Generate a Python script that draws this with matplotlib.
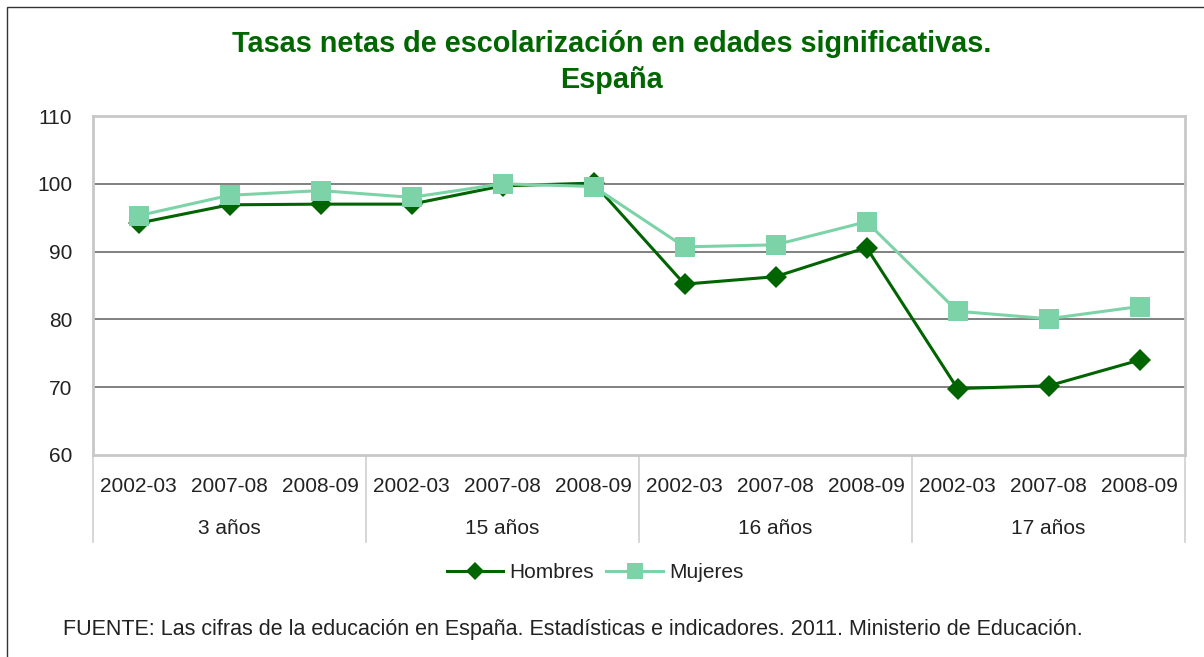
import matplotlib
matplotlib.use("Agg")
import matplotlib.pyplot as plt
from matplotlib.patches import Rectangle
from matplotlib.transforms import blended_transform_factory

plt.rcParams['font.family'] = ['Liberation Sans', 'DejaVu Sans']

title = "Tasas netas de escolarización en edades significativas.\nEspaña"
groups = ["3 años", "15 años", "16 años", "17 años"]
years = ["2002-03", "2007-08", "2008-09"]
hombres = [94.2, 96.9, 97.0, 97.0, 99.7, 100.1, 85.2, 86.3, 90.6, 69.8, 70.2, 74.0]
mujeres = [95.3, 98.3, 99.0, 98.0, 100.0, 99.6, 90.7, 91.0, 94.4, 81.2, 80.1, 81.9]
yticks = [60, 70, 80, 90, 100, 110]
source = ("FUENTE: Las cifras de la educación en España. Estadísticas e indicadores. "
          "2011. Ministerio de Educación.")

W, H = 1204, 657
fig = plt.figure(figsize=(W / 100, H / 100), dpi=100)
fig.patch.set_facecolor('white')

# outer border
fig.add_artist(Rectangle((7 / W, -0.05), 1.2, 1 - 7 / H + 0.05, transform=fig.transFigure,
                         fill=False, edgecolor='#333333', lw=1.0))

ax = fig.add_axes([93 / W, 1 - 455 / H, (1185 - 93) / W, (455 - 116) / H])
n = len(hombres)
x = list(range(n))
text_color = '#222222'
fs = 15

ax.set_xlim(-0.5, n - 0.5)
ax.set_ylim(yticks[0], yticks[-1])
ax.set_yticks(yticks)
ax.tick_params(axis='y', length=0, pad=15, labelsize=fs, labelcolor=text_color)
ax.set_xticks([])
for s in ax.spines.values():
    s.set_color('#c8c8c8')
    s.set_linewidth(2)
for v in yticks[1:-1]:
    ax.axhline(v, color='#5e5e5e', lw=1.1, zorder=1)

ax.plot(x, mujeres, color='#7dd3a8', lw=2.2, marker='s', markersize=14.5,
        markeredgewidth=0, label='Mujeres', zorder=3)
ax.plot(x, hombres, color='#006400', lw=2.2, marker='D', markersize=11,
        markeredgewidth=0, label='Hombres', zorder=2)

trans = blended_transform_factory(ax.transData, ax.transAxes)
ah = 455 - 116
for i in range(n):
    ax.text(x[i], -31 / ah, years[i % len(years)], transform=trans, ha='center', va='center',
            fontsize=fs, color=text_color)
for g, name in enumerate(groups):
    c = g * len(years) + (len(years) - 1) / 2
    ax.text(c, -73 / ah, name, transform=trans, ha='center', va='center',
            fontsize=fs, color=text_color)
for g in range(len(groups) + 1):
    b = g * len(years) - 0.5
    ax.plot([b, b], [0, -87 / ah], transform=trans, color='#d0d0d0', lw=1.2, clip_on=False)

fig.text(612 / W, 1 - 62 / H, title, ha='center', va='center', fontsize=20.8, fontweight='bold',
         color='#006600', linespacing=1.35)

h, l = ax.get_legend_handles_labels()
leg = fig.legend([h[1], h[0]], [l[1], l[0]], loc='center', bbox_to_anchor=(595 / W, 1 - 573 / H),
                 ncol=2, frameon=False, fontsize=fs, handlelength=2.7, markerscale=0.8,
                 handletextpad=0.3, columnspacing=0.6)
for t in leg.get_texts():
    t.set_color(text_color)

fig.text(63 / W, 1 - 630 / H, source, ha='left', va='center', fontsize=15.5, color=text_color)

fig.savefig('out.png', dpi=100, facecolor='white')
